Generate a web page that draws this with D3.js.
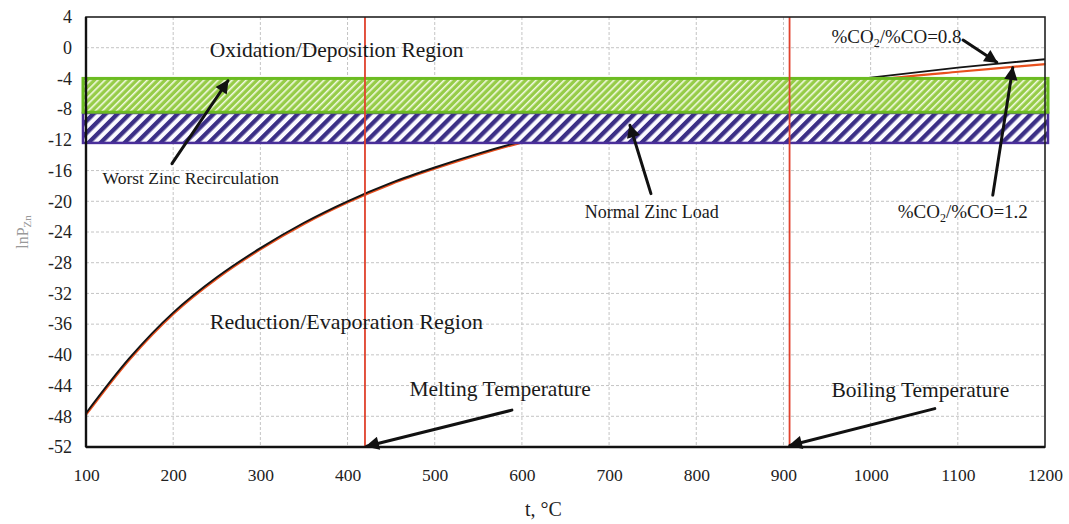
<!DOCTYPE html>
<html>
<head>
<meta charset="utf-8">
<script src="https://cdn.jsdelivr.net/npm/d3@7/dist/d3.min.js"></script>
<style>
  html, body { margin: 0; padding: 0; background: #fff; }
  svg { display: block; font-family: "Liberation Serif", "DejaVu Serif", serif; }
</style>
</head>
<body>
<svg id="chart" width="1069" height="524"></svg>
<script>
// Temperature grid (°C) and equilibrium ln P(Zn) curves for two gas ratios
const tempC       = [100, 150, 200, 250, 300, 350, 400, 450, 500, 550, 600, 700, 800, 900, 1000, 1100, 1200];
const lnP_ratio08 = [-47.6, -40.4, -34.5, -29.9, -26.1, -22.8, -20.0, -17.6, -15.6, -13.8, -12.2, -9.5, -7.3, -5.4, -3.9, -2.6, -1.5];
const lnP_ratio12 = [-47.6, -40.4, -34.5, -29.9, -26.1, -22.8, -20.0, -17.6, -15.6, -13.8, -12.2, -9.5, -7.3, -5.5, -4.1, -3.0, -2.0];

// Axis ticks
const xTicks = [100, 200, 300, 400, 500, 600, 700, 800, 900, 1000, 1100, 1200];
const yTicks = [4, 0, -4, -8, -12, -16, -20, -24, -28, -32, -36, -40, -44, -48, -52];

// Zinc bands (ln P ranges) and transition temperatures
const worstBand  = [-4.0, -8.4];
const normalBand = [-8.5, -12.4];
const meltingT = 420;
const boilingT = 907;

// Text annotations: [label, t, lnP, fontSize]
const regionLabels = [
  ["Oxidation/Deposition Region", 242, -1.2, 21.5],
  ["Reduction/Evaporation Region", 242, -36.6, 22],
  ["Worst Zinc Recirculation", 119, -17.8, 17.5],
  ["Normal Zinc Load", 672, -22.2, 18],
  ["Melting Temperature", 471, -45.4, 21.5],
  ["Boiling Temperature", 955, -45.5, 21.5]
];
const ratioLabels = [
  ["0.8", 955, 0.6],
  ["1.2", 1031, -22.2]
];
// Arrows: [t0, lnP0, t1, lnP1] (tip at the second point)
const arrows = [
  [198.6, -15.1, 262.8, -4.3],
  [748.0, -19.0, 723.9, -10.1],
  [1106.0, 1.0, 1144.7, -1.9],
  [1140.1, -19.2, 1163.0, -2.6],
  [588.5, -47.2, 422.0, -51.9],
  [1073.6, -47.0, 907.3, -51.8]
];

const W = 1069, H = 524;
const margin = {top: 17, right: 24, bottom: 77, left: 86};
const svg = d3.select("#chart");

const x = d3.scaleLinear().domain([100, 1200]).range([margin.left, W - margin.right]);
const y = d3.scaleLinear().domain([4, -52]).range([margin.top, H - margin.bottom]);

const defs = svg.append("defs");

// Hatch patterns for the two bands
const pg = defs.append("pattern").attr("id", "hatchGreen")
  .attr("patternUnits", "userSpaceOnUse").attr("width", 5).attr("height", 5)
  .attr("patternTransform", "rotate(45)");
pg.append("rect").attr("width", 5).attr("height", 5).attr("fill", "#96cc48");
pg.append("rect").attr("x", 0).attr("width", 1.6).attr("height", 5).attr("fill", "#f2fae2");

const pp = defs.append("pattern").attr("id", "hatchPurple")
  .attr("patternUnits", "userSpaceOnUse").attr("width", 8.5).attr("height", 8.5)
  .attr("patternTransform", "rotate(45)");
pp.append("rect").attr("width", 8.5).attr("height", 8.5).attr("fill", "#fbfaff");
pp.append("rect").attr("x", 0).attr("width", 4.3).attr("height", 8.5).attr("fill", "#3b2f86");

defs.append("marker").attr("id", "arrowHead")
  .attr("viewBox", "0 0 10 10").attr("refX", 9).attr("refY", 5)
  .attr("markerWidth", 5).attr("markerHeight", 4.5).attr("orient", "auto")
  .attr("markerUnits", "strokeWidth")
  .append("path").attr("d", "M0,0 L10,5 L0,10 Z").attr("fill", "#111");

// Grid lines
svg.append("g").selectAll("line.gx").data(xTicks.slice(1, -1)).join("line")
  .attr("x1", d => x(d)).attr("x2", d => x(d))
  .attr("y1", y(4)).attr("y2", y(-52))
  .attr("stroke", "#c4c4c4").attr("stroke-width", 1).attr("stroke-dasharray", "3,2");
svg.append("g").selectAll("line.gy").data(yTicks.slice(1, -1)).join("line")
  .attr("x1", x(100)).attr("x2", x(1200))
  .attr("y1", d => y(d)).attr("y2", d => y(d))
  .attr("stroke", "#c4c4c4").attr("stroke-width", 1).attr("stroke-dasharray", "3,2");

// Curves
const line = d3.line().x((d, i) => x(tempC[i])).y(d => y(d)).curve(d3.curveCatmullRom.alpha(0.5));
svg.append("path").datum(lnP_ratio12).attr("d", line)
  .attr("fill", "none").attr("stroke", "#e8501e").attr("stroke-width", 2.2)
  .attr("transform", "translate(0.5,1)");
svg.append("path").datum(lnP_ratio08).attr("d", line)
  .attr("fill", "none").attr("stroke", "#141414").attr("stroke-width", 1.9);

// Bands
const bandX0 = x(100) - 3, bandX1 = x(1200) + 3;
svg.append("rect")
  .attr("x", bandX0).attr("width", bandX1 - bandX0)
  .attr("y", y(normalBand[0])).attr("height", y(normalBand[1]) - y(normalBand[0]))
  .attr("fill", "url(#hatchPurple)").attr("stroke", "#4a2f9a").attr("stroke-width", 2.5);
svg.append("rect")
  .attr("x", bandX0).attr("width", bandX1 - bandX0)
  .attr("y", y(worstBand[0])).attr("height", y(worstBand[1]) - y(worstBand[0]))
  .attr("fill", "url(#hatchGreen)").attr("stroke", "#6cbc22").attr("stroke-width", 3);

// Melting and boiling temperature lines
svg.append("g").selectAll("line").data([meltingT, boilingT]).join("line")
  .attr("x1", d => x(d)).attr("x2", d => x(d))
  .attr("y1", y(4)).attr("y2", y(-52))
  .attr("stroke", "#e0412c").attr("stroke-width", 1.8);

// Plot frame
svg.append("rect")
  .attr("x", x(100)).attr("y", y(4))
  .attr("width", x(1200) - x(100)).attr("height", y(-52) - y(4))
  .attr("fill", "none").attr("stroke", "#222").attr("stroke-width", 1.6);
svg.append("line").attr("x1", x(100)).attr("x2", x(100)).attr("y1", y(4)).attr("y2", y(-52))
  .attr("stroke", "#111").attr("stroke-width", 2.4);
svg.append("line").attr("x1", x(100)).attr("x2", x(1200)).attr("y1", y(-52)).attr("y2", y(-52))
  .attr("stroke", "#111").attr("stroke-width", 2.4);

// Axes
const xAxis = d3.axisBottom(x).tickValues(xTicks).tickSize(0).tickPadding(22).tickFormat(d3.format("d"));
const gx = svg.append("g").attr("transform", `translate(0,${y(-52)})`).call(xAxis);
gx.select(".domain").remove();
gx.selectAll("text").attr("font-size", 17.5).attr("fill", "#222").attr("font-family", "Liberation Serif");

const yAxis = d3.axisLeft(y).tickValues(yTicks).tickSize(0).tickPadding(14)
  .tickFormat(d => d < 0 ? "-" + Math.abs(d) : String(d));
const gy = svg.append("g").attr("transform", `translate(${x(100)},0)`).call(yAxis);
gy.select(".domain").remove();
gy.selectAll("text").attr("font-size", 18).attr("fill", "#222").attr("font-family", "Liberation Serif");

// Axis titles
svg.append("text").attr("x", (x(100) + x(1200)) / 2 - 22).attr("y", 516)
  .attr("text-anchor", "middle").attr("font-size", 20).attr("fill", "#222").text("t, °C");
const yt = svg.append("text").attr("transform", "translate(28,232) rotate(-90)")
  .attr("text-anchor", "middle").attr("font-size", 16).attr("fill", "#999");
yt.append("tspan").text("lnP");
yt.append("tspan").attr("font-size", 11).attr("dy", 3).text("Zn");

// Annotation labels
svg.append("g").selectAll("text").data(regionLabels).join("text")
  .attr("x", d => x(d[1])).attr("y", d => y(d[2]))
  .attr("font-size", d => d[3]).attr("fill", "#1a1a1a").text(d => d[0]);

ratioLabels.forEach(([val, t, v]) => {
  const tx = svg.append("text").attr("x", x(t)).attr("y", y(v))
    .attr("font-size", 19).attr("fill", "#1a1a1a");
  tx.append("tspan").text("%CO");
  tx.append("tspan").attr("font-size", 12).attr("dy", 4).text("2");
  tx.append("tspan").attr("dy", -4).text("/%CO=" + val);
});

// Arrows
svg.append("g").selectAll("line").data(arrows).join("line")
  .attr("x1", d => x(d[0])).attr("y1", d => y(d[1]))
  .attr("x2", d => x(d[2])).attr("y2", d => y(d[3]))
  .attr("stroke", "#111").attr("stroke-width", 3).attr("stroke-linecap", "round")
  .attr("marker-end", "url(#arrowHead)");
</script>
</body>
</html>
